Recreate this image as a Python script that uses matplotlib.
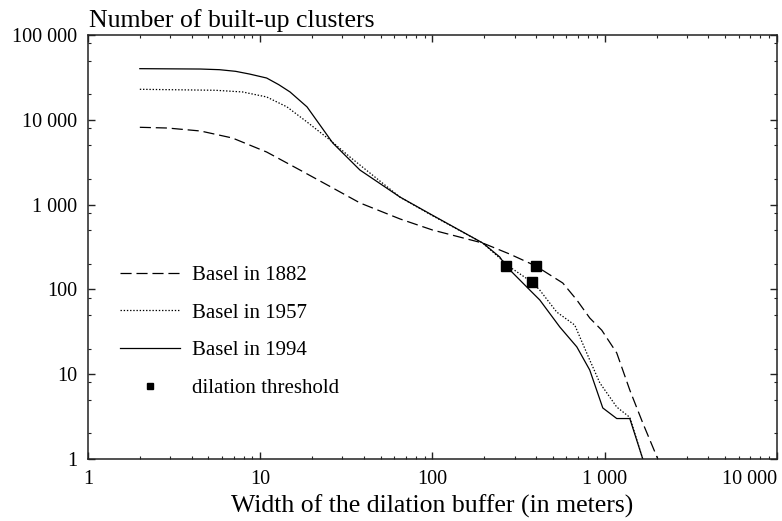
import matplotlib
matplotlib.use("Agg")
import matplotlib.pyplot as plt
from matplotlib.ticker import LogLocator, NullFormatter

plt.rcParams['font.family'] = ['Liberation Serif', 'DejaVu Serif']
plt.rcParams['lines.scale_dashes'] = False

# Basel in 1882
x_1882 = [2, 2.9, 4.5, 6.9, 10.9, 17, 26.4, 38, 65, 100, 196, 281, 398, 571, 689, 819, 962, 1175, 1399, 1664, 2034]
y_1882 = [8160, 8000, 7380, 6100, 4170, 2560, 1570, 1045, 676, 502, 352, 261, 189, 119, 75, 46, 33, 17.8, 6.5, 2.66, 1]

# Basel in 1957
x_1957 = [2, 5.5, 7.9, 10.9, 14.3, 18.7, 25.4, 33.2, 65, 100, 196, 281, 378, 420, 527, 670, 819, 937, 1175, 1399, 1664]
y_1957 = [22900, 22300, 21300, 18600, 14200, 9420, 5780, 3640, 1220, 740, 352, 184, 122, 98, 54, 38, 14.7, 7.9, 4.1, 3.1, 1]

# Basel in 1994
x_1994 = [2, 4.5, 5.8, 7.2, 8.7, 10.9, 12.8, 14.9, 18.7, 26.4, 37.9, 64.7, 100, 196, 246, 267, 368, 420, 549, 689, 819, 975, 1175, 1399, 1664]
y_1994 = [40100, 39700, 39000, 37300, 34600, 31100, 26000, 21300, 14200, 5320, 2560, 1230, 750, 352, 241, 189, 98, 75, 36, 21, 11.2, 4.0, 3.0, 3.0, 1]

# dilation thresholds
x_thr = [267, 398, 378]
y_thr = [189, 189, 122]

x_ticks = [1, 10, 100, 1000, 10000]
x_ticklabels = ['1', '10', '100', '1 000', '10 000']
y_ticks = [1, 10, 100, 1000, 10000, 100000]
y_ticklabels = ['1', '10', '100', '1 000', '10 000', '100 000']

fig = plt.figure(figsize=(7.82, 5.21), dpi=100)
ax = fig.add_axes([0.1125, 0.119, 0.881, 0.8138])

ax.plot(x_1882, y_1882, color='black', lw=0.9, linestyle=(0, (8, 3.5)), label='Basel in 1882')
ax.plot(x_1957, y_1957, color='black', lw=0.9, linestyle=(0, (1, 1.3)), label='Basel in 1957')
ax.plot(x_1994, y_1994, color='black', lw=0.9, label='Basel in 1994')
ax.plot(x_thr, y_thr, linestyle='none', marker='s', ms=6.5, color='black', label='dilation threshold')

ax.set_xscale('log')
ax.set_yscale('log')
ax.set_xlim(1, 10000)
ax.set_ylim(1, 100000)

ax.set_xticks(x_ticks)
ax.set_xticklabels(x_ticklabels)
ax.set_yticks(y_ticks)
ax.set_yticklabels(y_ticklabels)
ax.xaxis.set_minor_locator(LogLocator(base=10, subs=range(2, 10), numticks=20))
ax.yaxis.set_minor_locator(LogLocator(base=10, subs=[2, 5, 8], numticks=20))
ax.xaxis.set_minor_formatter(NullFormatter())
ax.yaxis.set_minor_formatter(NullFormatter())

ax.tick_params(which='both', direction='in', top=True, right=True, labelsize=14.5, pad=8, color='#222222')
ax.tick_params(which='major', length=5, width=1)
ax.tick_params(which='minor', length=2.5, width=0.8)
for s in ax.spines.values():
    s.set_linewidth(1.1)
    s.set_color('#222222')

# last x tick label sits inside the figure, as in the original
ax.get_xticklabels()[-1].set_horizontalalignment('right')
ax.get_xticklabels()[-1].set_x(10000)

ax.set_xlabel('Width of the dilation buffer (in meters)', fontsize=18.5, labelpad=4)
fig.text(0.1135, 0.948, 'Number of built-up clusters', fontsize=18.5, ha='left', va='baseline')

ax.legend(loc='center left', bbox_to_anchor=(0.046, 0.30), frameon=False, fontsize=15,
          handlelength=2.9, handletextpad=0.55, labelspacing=0.87, borderpad=0,
          borderaxespad=0, markerscale=0.75)

fig.savefig('out.png', dpi=100)
